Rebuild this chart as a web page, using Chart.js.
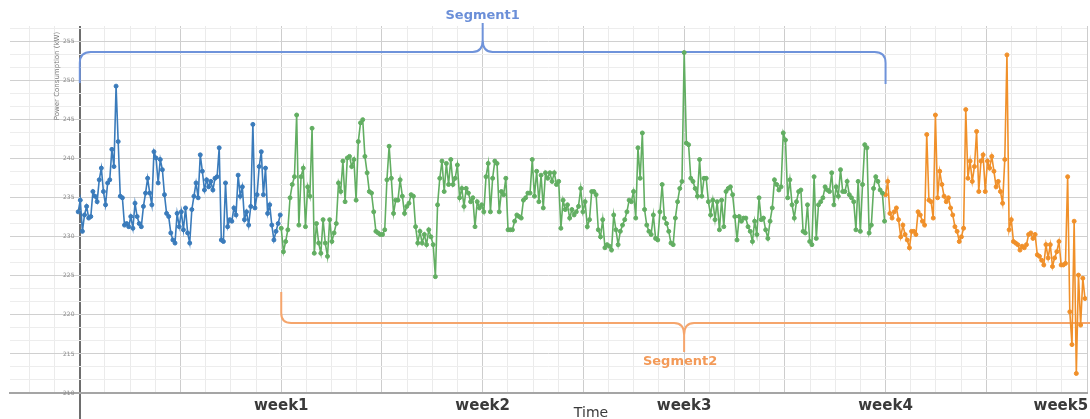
<!DOCTYPE html>
<html><head><meta charset="utf-8">
<script src="https://cdn.jsdelivr.net/npm/chart.js@4.4.1/dist/chart.umd.min.js"></script>
<style>html,body{margin:0;padding:0;background:#fff;overflow:hidden}</style>
</head><body>
<canvas id="c" width="1090" height="419"></canvas>
<script>
// ---- data ----
const weekLabels = ['', 'week1', 'week2', 'week3', 'week4', 'week5'];
const yMajorTicks = [210, 215, 220, 225, 230, 235, 240, 245, 250, 255];
const segmentNames = ['Segment1', 'Segment2'];
const blueSpan = [-0.008, 0.995];
const greenSpan = [1.0, 3.995];
const orangeSpan = [4.0, 4.99];
const blueValues = [233.2,234.7,230.7,232.8,233.9,232.4,232.6,235.8,235.2,234.5,237.3,238.8,235.8,234.1,236.9,237.3,241.2,239.0,249.3,242.2,235.2,235.0,231.5,231.7,231.3,232.6,231.1,234.3,232.6,231.7,231.3,233.9,235.6,237.5,235.6,234.1,240.9,240.1,236.9,239.9,238.6,235.4,233.0,232.6,230.5,229.6,229.2,233.0,231.3,233.2,230.9,233.7,230.5,229.2,233.5,235.2,236.9,235.0,240.5,238.4,236.0,237.3,236.4,237.1,236.0,237.5,237.7,241.4,229.6,229.4,236.9,231.3,232.2,232.0,233.7,232.8,237.9,235.2,236.4,232.2,233.2,231.5,233.9,244.4,233.7,235.4,239.0,240.9,235.4,238.8,233.0,234.1,231.5,229.6,230.7,231.7,232.8];
const greenValuesA = [231.1,228.1,229.4,230.9,235.0,236.7,237.7,245.6,231.5,237.7,238.8,231.3,236.4,235.2,243.9,227.9,231.7,229.2,227.9,232.2,229.2,227.5,232.2,229.4,230.5,231.7,236.9,235.8,239.7,234.5,240.1,240.3,239.0,239.9,234.7,242.2,244.6,245.0,240.3,238.2,235.8,235.6,233.2,230.7,230.5,230.3,230.3,230.9,237.3,241.6,237.5,233.0,234.7,234.7,237.3,235.2,233.0,233.9,234.3,235.4];
const greenValuesB = [235.2,231.3,229.2,230.7,229.2,230.3,229.0,230.9,230.0,229.0,224.9,234.1,237.5,239.7,235.8,239.4,236.7,239.9,236.7,237.5,239.2,235.0,236.2,233.9,236.2,235.6,234.5,235.0,231.3,234.5,233.7,234.1,233.2,237.7,239.4,233.2,237.5,239.7,239.4,233.2,235.8,235.4,237.5,230.9,230.9,230.9,232.0,232.8,232.6,232.4,234.7,235.0,235.6,235.6,239.9,235.2,238.4,234.5,237.9,233.7,238.2,237.5,238.2,237.1,238.2,236.7,237.1,231.1,234.7,233.5,234.1,232.4,233.5,232.8,233.2,233.9,236.2,233.2,234.5,231.3,232.2,235.8,235.8,235.4,230.9,230.0,232.2,228.6,229.0,228.8,228.3,232.8,230.9,229.0,230.7,231.5,232.2,233.2,234.7,234.5,235.8,232.4,241.4,237.5,243.3,233.5,231.5,230.7,230.3,232.8,229.8,229.6,233.2,236.7,232.4,231.7,230.7,229.2,229.0,232.4,234.5,236.2,237.1,253.6,242.0,241.8,237.5,237.1,236.2,235.2,239.9,235.2,237.5,237.5,234.5,232.8,234.7,232.2,234.5,230.9,234.7,231.3,235.8,236.2,236.4,235.4,232.6,229.6,232.6,232.0,232.4];
const greenValuesC = [232.4,231.3,230.7,229.4,232.0,230.3,235.0,232.2,232.4,230.9,229.8,232.0,233.7,237.3,236.7,236.0,236.4,243.3,242.4,235.0,237.3,234.1,232.4,234.5,235.8,236.0,230.7,230.5,234.1,229.4,229.0,237.7,229.8,234.1,234.5,235.0,236.4,236.0,235.8,238.2,234.1,236.4,235.2,238.6,235.8,235.8,237.1,235.4,235.0,234.5,230.9,237.1,230.7,236.7,241.8,241.4,230.5,231.5,236.2,237.7,237.1,236.0,235.6,232.0];
const orangeValues = [235.4,237.1,233.0,232.4,233.2,233.7,232.2,230.0,231.5,230.3,229.6,228.6,230.7,230.7,230.3,233.2,232.8,232.0,231.5,243.1,234.7,234.5,232.4,245.6,235.0,238.4,236.7,235.2,234.5,235.0,233.7,232.8,231.3,230.7,229.4,230.0,231.1,246.3,237.5,239.7,237.1,239.0,243.5,235.8,239.7,240.5,235.8,239.7,238.8,240.3,238.4,236.4,237.1,235.8,234.3,239.9,253.3,230.9,232.2,229.4,229.2,229.0,228.3,228.8,228.6,229.0,230.3,230.5,229.8,230.3,227.7,227.5,227.0,226.4,229.0,227.3,229.0,226.2,227.3,228.1,229.4,226.4,226.4,226.6,237.7,220.4,216.2,232.0,212.5,225.1,218.7,224.7,222.1];
const greenValues = greenValuesA.concat(greenValuesB, greenValuesC);

function toPoints(vals, span) {
  const n = vals.length;
  return vals.map((v, i) => ({ x: span[0] + i * (span[1] - span[0]) / (n - 1), y: v }));
}

// grid positions (every 1/8 week on x, every 5/3 kW on y)
const xGrid = [];
for (let k = -2; k <= 40; k++) xGrid.push(k / 8);
const yGrid = [];
for (let k = 0; k <= 28; k++) yGrid.push(210 + k * 5 / 3);

const isMult = (v, m) => Math.abs(v / m - Math.round(v / m)) < 1e-6;

const decorations = {
  id: 'decorations',
  beforeDatasetsDraw(chart) {
    const c = chart.ctx, xs = chart.scales.x;
    const x0 = xs.getPixelForValue(0), x1 = xs.getPixelForValue(1), x2 = xs.getPixelForValue(2),
          x3 = xs.getPixelForValue(3), x4 = xs.getPixelForValue(4), x5 = xs.getPixelForValue(5);
    c.save();
    c.lineWidth = 2;
    c.lineJoin = 'round';
    // Segment1 bracket
    c.strokeStyle = '#6f93da';
    c.beginPath();
    c.moveTo(x0, 83); c.lineTo(x0, 63); c.quadraticCurveTo(x0, 52, x0 + 11, 52);
    c.lineTo(x2 - 10, 52); c.quadraticCurveTo(x2, 52, x2, 40); c.lineTo(x2, 23);
    c.moveTo(x2, 40); c.quadraticCurveTo(x2, 52, x2 + 10, 52);
    c.lineTo(x4 - 11, 52); c.quadraticCurveTo(x4, 52, x4, 63); c.lineTo(x4, 84);
    c.stroke();
    // Segment2 bracket
    c.strokeStyle = '#f5a56c';
    c.beginPath();
    c.moveTo(x1, 292); c.lineTo(x1, 313); c.quadraticCurveTo(x1, 323, x1 + 10, 323);
    c.lineTo(x3 - 10, 323); c.quadraticCurveTo(x3, 323, x3, 335); c.lineTo(x3, 352);
    c.moveTo(x3, 335); c.quadraticCurveTo(x3, 323, x3 + 10, 323); c.lineTo(x5 + 5, 323);
    c.stroke();
    c.restore();
  },
  afterDraw(chart) {
    const c = chart.ctx, xs = chart.scales.x;
    c.save();
    c.textAlign = 'center'; c.textBaseline = 'middle';
    c.font = 'bold 13px "DejaVu Sans"';
    c.fillStyle = '#6b8fd8';
    c.fillText(segmentNames[0], xs.getPixelForValue(2), 16);
    c.fillStyle = '#f39a58';
    c.fillText(segmentNames[1], xs.getPixelForValue(3) - 4, 362);
    c.font = '14px "DejaVu Sans"';
    c.fillStyle = '#3a3a3a';
    c.fillText('Time', 591, 413);
    c.translate(57, 76); c.rotate(-Math.PI / 2);
    c.font = '7px "DejaVu Sans"';
    c.fillStyle = '#7a7a7a';
    c.fillText('Power Consumption (kW)', 0, 0);
    c.restore();
  }
};

const lineDs = (label, data, color) => ({
  label, data, borderColor: color, backgroundColor: color,
  borderWidth: 1.6, pointRadius: 2, pointHoverRadius: 2, pointBorderWidth: 1,
  tension: 0, fill: false
});

new Chart(document.getElementById('c'), {
  type: 'line',
  data: {
    datasets: [
      lineDs('week 0-1', toPoints(blueValues, blueSpan), '#3a7bbb'),
      lineDs('week 1-4', toPoints(greenValues, greenSpan), '#62ae62'),
      lineDs('week 4-5', toPoints(orangeValues, orangeSpan), '#f0902a')
    ]
  },
  options: {
    responsive: false, animation: false, devicePixelRatio: 1,
    layout: { padding: { left: 10, right: 0, top: 26, bottom: 0 } },
    plugins: { legend: { display: false }, tooltip: { enabled: false } },
    scales: {
      x: {
        type: 'linear', min: -0.3465, max: 5,
        afterBuildTicks: s => { s.ticks = xGrid.map(v => ({ value: v })); },
        afterFit: s => { s.height = 26; s.paddingLeft = 0; s.paddingRight = 0; },
        grid: {
          color: ctx => {
            const v = ctx.tick ? ctx.tick.value : 1;
            if (Math.abs(v) < 1e-9) return '#6e6e6e';
            return isMult(v, 0.5) ? '#cdcdcd' : '#ebebeb';
          },
          lineWidth: ctx => (ctx.tick && Math.abs(ctx.tick.value) < 1e-9) ? 2 : 1,
          tickLength: 26,
          tickColor: ctx => (ctx.tick && Math.abs(ctx.tick.value) < 1e-9) ? '#6e6e6e' : 'rgba(0,0,0,0)'
        },
        border: { display: true, color: '#a5a5a5', width: 2 },
        ticks: {
          autoSkip: false, maxRotation: 0, minRotation: 0, padding: -22,
          font: { family: 'DejaVu Sans', size: 15, weight: 'bold' }, color: '#3a3a3a',
          callback: v => {
            if (!isMult(v, 1)) return '';
            const k = Math.round(v);
            if (k < 1 || k >= weekLabels.length) return '';
            return k === 5 ? weekLabels[k] + '          ' : weekLabels[k];
          }
        }
      },
      y: {
        type: 'linear', min: 210, max: 257, position: 'left',
        afterBuildTicks: s => { s.ticks = yGrid.map(v => ({ value: v })); },
        afterFit: s => { s.width = 0; s.paddingTop = 0; s.paddingBottom = 0; },
        grid: {
          color: ctx => (ctx.tick && isMult(ctx.tick.value, 5)) ? '#d0d0d0' : '#ededed',
          drawTicks: false
        },
        border: { display: false },
        ticks: {
          mirror: true, padding: 53, autoSkip: false,
          font: { family: 'DejaVu Sans', size: 6 }, color: '#8a8a8a',
          callback: v => {
            const hit = yMajorTicks.find(t => Math.abs(t - v) < 1e-6);
            return hit !== undefined ? String(hit) : '';
          }
        }
      }
    }
  },
  plugins: [decorations]
});
</script>
</body></html>
